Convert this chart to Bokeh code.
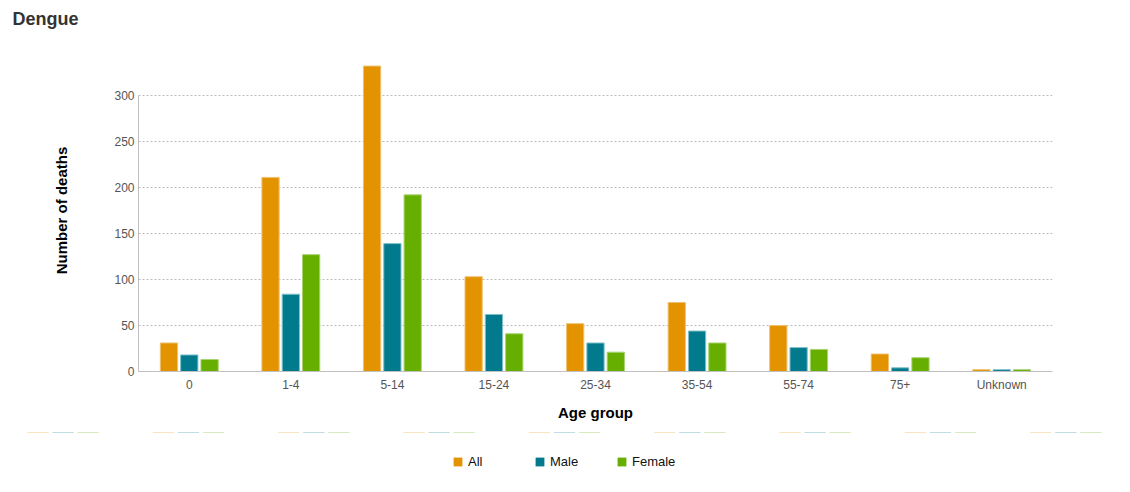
from bokeh.plotting import figure
from bokeh.layouts import column
from bokeh.models import (ColumnDataSource, FactorRange, FixedTicker, Legend, LegendItem,
                          Range1d, Label)
from bokeh.transform import dodge
from bokeh.embed import file_html
from bokeh.resources import INLINE

age_groups = ["0", "1-4", "5-14", "15-24", "25-34", "35-54", "55-74", "75+", "Unknown"]
all_deaths = [31, 211, 332, 103, 52, 75, 50, 19, 2]
male_deaths = [18, 84, 139, 62, 31, 44, 26, 4, 2]
female_deaths = [13, 127, 192, 41, 21, 31, 24, 15, 2]
y_ticks = [0, 50, 100, 150, 200, 250, 300]
series_names = ["All", "Male", "Female"]

source = ColumnDataSource(data=dict(age=age_groups, all=all_deaths, male=male_deaths, female=female_deaths))

FONT = "Liberation Sans"
W = 1128
colors = ["#E39200", "#007A8C", "#66AE00"]
outlines = ["#F0C070", "#7FC0CA", "#A8D470"]
cols = ["all", "male", "female"]
offsets = [-0.2, 0.0, 0.2]


def bare(fig):
    fig.outline_line_color = None
    fig.xaxis.visible = False
    fig.yaxis.visible = False
    fig.xgrid.visible = False
    fig.ygrid.visible = False
    try:
        fig.frame_align = False
    except Exception:
        pass
    return fig


# ---- title strip ----
t = bare(figure(width=W, height=40, x_range=Range1d(0, W), y_range=Range1d(40, 0),
                min_border=0, output_backend="svg", toolbar_location=None))
t.add_layout(Label(x=12, y=18, text="Dengue", text_font=FONT, text_font_size="18px",
                   text_font_style="bold", text_color="#333333", text_baseline="middle"))

# ---- main chart ----
p = figure(x_range=FactorRange(*age_groups, range_padding=0), y_range=Range1d(0, 350),
           frame_width=914, frame_height=322, output_backend="svg", toolbar_location=None,
           min_border_left=138, min_border_right=76, min_border_top=9, min_border_bottom=61)

for c, col, oc, off in zip(cols, colors, outlines, offsets):
    p.vbar(x=dodge("age", off, range=p.x_range), top=c, bottom=0, width=0.17, source=source,
           fill_color=col, line_color=oc, line_width=1)

p.outline_line_color = None
p.xgrid.grid_line_color = None
p.ygrid.grid_line_color = "#bbbbbb"
p.ygrid.grid_line_dash = "2 2"
p.ygrid.ticker = FixedTicker(ticks=y_ticks)

p.yaxis.ticker = FixedTicker(ticks=y_ticks)
p.yaxis.bounds = (0, 300)
p.yaxis.axis_line_color = "#c0c0c0"
p.yaxis.major_tick_line_color = None
p.yaxis.minor_tick_line_color = None
p.yaxis.major_tick_out = 0
p.yaxis.minor_tick_out = 0
p.yaxis.major_label_standoff = 4
p.yaxis.major_label_text_font = FONT
p.yaxis.major_label_text_font_size = "12px"
p.yaxis.major_label_text_color = "#555555"
p.yaxis.axis_label = "Number of deaths"
p.yaxis.axis_label_text_font = FONT
p.yaxis.axis_label_text_font_size = "15px"
p.yaxis.axis_label_text_font_style = "bold"
p.yaxis.axis_label_text_color = "#000000"
p.yaxis.axis_label_standoff = 41

p.xaxis.axis_line_color = "#c0c0c0"
p.xaxis.major_tick_line_color = None
p.xaxis.minor_tick_line_color = None
p.xaxis.major_tick_out = 0
p.xaxis.minor_tick_out = 0
p.xaxis.major_label_standoff = 6
p.xaxis.major_label_text_font = FONT
p.xaxis.major_label_text_font_size = "12px"
p.xaxis.major_label_text_color = "#555555"
p.xaxis.axis_label = "Age group"
p.xaxis.axis_label_text_font = FONT
p.xaxis.axis_label_text_font_size = "15px"
p.xaxis.axis_label_text_font_style = "bold"
p.xaxis.axis_label_text_color = "#000000"
p.xaxis.axis_label_standoff = 9

# ---- legend strip (same series; bars lie outside its view, only the key shows) ----
lg = bare(figure(width=W, height=58, x_range=FactorRange(*age_groups), y_range=Range1d(-30, -20),
                 min_border=0, output_backend="svg", toolbar_location=None))
items = []
for name, c, col, off in zip(series_names, cols, colors, offsets):
    r = lg.vbar(x=dodge("age", off, range=lg.x_range), top=c, bottom=0, width=0.17, source=source,
                fill_color=col, line_color=col, line_alpha=0)
    items.append(LegendItem(label=name, renderers=[r]))
legend = Legend(items=items, orientation="horizontal", location=(452, 21))
legend.border_line_color = None
legend.background_fill_alpha = 0
legend.glyph_width = 11
legend.glyph_height = 11
legend.label_standoff = 5
legend.label_width = 56
legend.spacing = 10
legend.label_text_font = FONT
legend.label_text_font_size = "13px"
legend.label_text_color = "#111111"
legend.margin = 0
legend.padding = 5
lg.add_layout(legend, "center")

layout = column(t, p, lg, spacing=0)
open("out.html", "w").write(file_html(layout, INLINE))
